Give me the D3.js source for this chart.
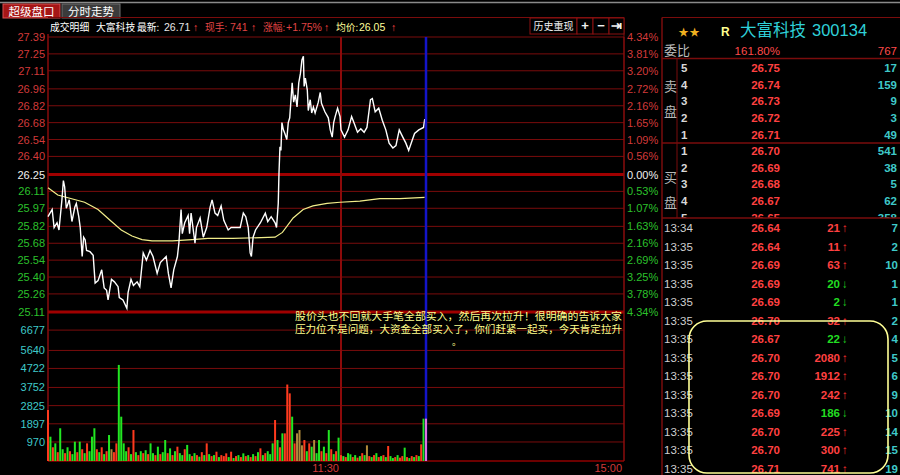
<!DOCTYPE html>
<html lang="zh">
<head>
<meta charset="UTF-8">
<title>大富科技 分时走势</title>
<style>
    html, body { margin: 0; padding: 0; background: #000; }
    svg { display: block; }
    text { font-family: "Liberation Sans", Arial, sans-serif; }
    .cn { font-family: "Noto Sans CJK SC", sans-serif; }
</style>
</head>
<body>
<svg id="chart" width="900" height="475"></svg>
<script src="https://d3js.org/d3.v7.min.js"></script>
<script>
    // ---- data ----
    const prevClose = 26.25;
    const priceTicks = [27.39, 27.25, 27.11, 26.96, 26.82, 26.68, 26.54, 26.40, 26.25,
                        26.11, 25.97, 25.82, 25.68, 25.54, 25.40, 25.26, 25.11];
    const pctLabels = ['4.34%', '3.81%', '3.20%', '2.72%', '2.16%', '1.65%', '1.09%', '0.56%', '0.00%',
                       '0.53%', '1.07%', '1.63%', '2.16%', '2.69%', '3.25%', '3.78%', '4.34%'];
    const volTicks = [970, 1897, 2825, 3752, 4722, 5640, 6677];
    const timeIdx = [120, 240];
    const timeLabels = ['11:30', '15:00'];

    // minute index (0 = 9:30, 120 = 11:30/13:00) and price
    const lineMinutes = [0, 1.7, 2.5, 3.7, 4.5, 5.7, 6.3, 6.8, 7.5, 8.2, 8.7, 9.8, 11, 11.6, 12.6, 13.2, 14, 14.6,
        15.2, 15.8, 17.2, 18.5, 19.3, 20.5, 22, 23, 24, 24.6, 26, 27.2, 28.7, 29.2, 30.7, 32.3, 32.8, 34, 35,
        36.5, 37.6, 39, 40.3, 41.8, 43, 44.7, 46, 48.4, 49.3, 50.4, 51.5, 53, 53.6, 54.5, 55, 56, 57.4, 58,
        58.6, 60.2, 60.8, 62.3, 63.6, 65, 66.4, 67.2, 68.4, 69.5, 70.9, 72, 73.8, 75, 76.6, 78.7, 80, 81, 82,
        82.8, 83.3, 84, 85, 87, 89, 90, 91.4, 93, 93.6, 94.3, 94.6, 95, 95.4, 95.8, 96.4, 97, 97.8, 98.4, 99,
        100, 100.6, 101.3, 102, 102.7, 103.4, 104, 104.6, 104.9, 105.4, 106.2, 106.6, 107.4, 108, 108.7, 109.4,
        110.7, 111.5, 112, 113.4, 114.8, 115.6, 116.4, 117, 117.6, 118.6, 119.6, 120, 121.5, 123, 124.5, 125.5,
        127, 128.4, 129.8, 131, 132.5, 133.3, 134.5, 136, 137.5, 139, 140.4, 142, 143.3, 144.7, 146.2, 147.5,
        148.7, 150.3, 151.2, 153, 155, 155.5];
    const linePrices = [25.90, 25.96, 25.81, 25.85, 25.79, 26.04, 26.20, 26.15, 25.97, 26.01, 26.04, 25.86, 25.98,
        26.01, 25.90, 25.81, 25.57, 25.73, 25.71, 25.62, 25.61, 25.58, 25.35, 25.37, 25.46, 25.31, 25.29, 25.21,
        25.38, 25.36, 25.32, 25.23, 25.21, 25.14, 25.27, 25.38, 25.33, 25.36, 25.32, 25.60, 25.54, 25.62, 25.57,
        25.43, 25.52, 25.57, 25.43, 25.31, 25.46, 25.57, 25.68, 25.96, 25.76, 25.85, 25.91, 25.76, 25.93, 25.68,
        25.81, 25.89, 25.73, 25.81, 25.98, 26.04, 25.93, 25.91, 25.99, 25.87, 25.79, 25.81, 25.81, 25.81, 25.93,
        25.90, 25.81, 25.60, 25.57, 25.73, 25.79, 25.85, 25.93, 25.86, 25.90, 25.85, 25.81, 26.01, 26.26, 26.48,
        26.45, 26.68, 26.62, 26.59, 26.54, 26.68, 26.72, 27.01, 26.85, 26.91, 26.81, 27.01, 27.09, 27.20, 27.23,
        26.98, 27.05, 26.95, 26.78, 26.87, 26.76, 26.81, 26.76, 26.85, 26.93, 26.84, 26.77, 26.72, 26.62, 26.56,
        26.68, 26.73, 26.80, 26.73, 26.62, 26.56, 26.62, 26.73, 26.68, 26.60, 26.63, 26.60, 26.64, 26.87, 26.88,
        26.77, 26.80, 26.70, 26.62, 26.51, 26.47, 26.49, 26.62, 26.56, 26.51, 26.45, 26.54, 26.59, 26.62, 26.64,
        26.71];

    const avgMinutes = [0, 4, 15, 20.5, 26, 30, 34.4, 38.5, 42.6, 51, 59, 65.5, 75.7, 93, 96, 100.4, 104.5,
        108.5, 114.3, 119.6, 128, 136.4, 145, 155.5];
    const avgPrices = [26.14, 26.08, 26.02, 25.96, 25.86, 25.79, 25.74, 25.71, 25.70, 25.70, 25.71, 25.72,
        25.72, 25.73, 25.77, 25.89, 25.96, 25.99, 26.01, 26.02, 26.03, 26.05, 26.05, 26.06];

    // volume per minute, 0..155, and direction (r up, g down, o flat, m current)
    const volumes = [2600, 1240, 700, 900, 450, 1670, 600, 400, 700, 500, 350, 985, 450, 985, 600, 400, 900, 500,
        1240, 1670, 600, 450, 700, 350, 500, 1325, 600, 450, 900, 4900, 2260, 900, 500, 700, 350, 1580, 450, 300,
        500, 400, 550, 350, 900, 400, 300, 730, 350, 450, 1070, 400, 645, 300, 500, 730, 400, 300, 600, 820, 350,
        250, 400, 300, 220, 450, 300, 900, 350, 250, 300, 475, 200, 300, 250, 390, 200, 475, 150, 250, 300, 200,
        390, 250, 300, 200, 350, 250, 450, 645, 300, 400, 500, 350, 900, 2090, 1070, 700, 1410, 1410, 3900, 3450,
        2260, 900, 1410, 1580, 800, 1070, 500, 900, 730, 1070, 400, 1070, 500, 730, 400, 1580, 600, 350, 500, 1190,
        300, 250, 200, 400, 340, 200, 300, 170, 250, 400, 300, 800, 250, 200, 300, 400, 200, 250, 300, 200, 765,
        250, 150, 200, 300, 170, 250, 680, 200, 150, 250, 200, 300, 250, 850, 2160];
    const volDirs = 'rgrgrggrgrgg' + 'rgrgrgggrgrg' + 'rgorrggggrgr' + 'grgrgrggrgrg' + 'grgrgrggrggr' +
                    'grgrgrgrgrgr' + 'rrgrgrgrgrgr' + 'grgrgrgggrgr' + 'grrrgrooorgr' + 'goggrgrgrgrg' +
                    'rgrggrgrgrgo' + 'rgrgrgrgrggr' + 'gr' + 'rgrgrgrgrgrg' + 'rgrgrgrgrgrrrgrr';

    // 盘口
    const askLevels = ['5', '4', '3', '2', '1'];
    const askPrices = ['26.75', '26.74', '26.73', '26.72', '26.71'];
    const askVols = ['17', '159', '9', '3', '49'];
    const bidLevels = ['1', '2', '3', '4', '5'];
    const bidPrices = ['26.70', '26.69', '26.68', '26.67', '26.65'];
    const bidVols = ['541', '38', '5', '62', '358'];

    // 成交明细
    const tickTimes = ['13:34', '13:35', '13:35', '13:35', '13:35', '13:35', '13:35',
                       '13:35', '13:35', '13:35', '13:35', '13:35', '13:35', '13:35'];
    const tickPrices = ['26.64', '26.64', '26.69', '26.69', '26.69', '26.70', '26.67',
                        '26.70', '26.70', '26.70', '26.69', '26.70', '26.70', '26.71'];
    const tickVols = ['21', '11', '63', '20', '2', '32', '22', '2080', '1912', '242', '186', '225', '300', '741'];
    const tickUp = [1, 1, 1, 0, 0, 1, 0, 1, 1, 1, 0, 1, 1, 1];
    const tickCounts = ['7', '2', '10', '1', '1', '2', '4', '5', '6', '9', '10', '14', '15', '19'];

    // ---- layout ----
    const plotL = 48, plotR = 624, plotT = 37, priceBottom = 312, volBottom = 461;
    const gridColor = '#7a0c0c';
    const redTxt = '#d23a3a', greenTxt = '#2cc02c', cyanTxt = '#3fc9c9';

    const svg = d3.select('#chart');

    const x = d3.scaleLinear().domain([0, 120, 240]).range([plotL, 341, plotR]);
    const yP = d3.scaleLinear().domain([25.11, 27.39]).range([priceBottom, plotT]);
    const yV = d3.scaleLinear().domain([0, 7600]).range([volBottom, priceBottom]);

    // top strip and tabs
    svg.append('line').attr('x1', 0).attr('x2', 900).attr('y1', 2.5).attr('y2', 2.5)
        .attr('stroke', '#8a8a8a').attr('stroke-width', 1.5);
    const tabs = [{t: '超级盘口', x: 3, w: 57, fill: '#a51616', stroke: '#d85050'},
                  {t: '分时走势', x: 62, w: 58, fill: '#3b3b3b', stroke: '#707070'}];
    tabs.forEach(d => {
        svg.append('rect').attr('x', d.x).attr('y', 4).attr('width', d.w).attr('height', 14)
            .attr('fill', d.fill).attr('stroke', d.stroke).attr('stroke-width', 1);
        svg.append('text').attr('class', 'cn').attr('x', d.x + d.w / 2).attr('y', 15.5)
            .attr('text-anchor', 'middle').attr('font-size', 11.5).attr('fill', '#fff').text(d.t);
    });

    // header frame
    svg.append('line').attr('x1', plotL).attr('x2', plotR).attr('y1', 17.5).attr('y2', 17.5)
        .attr('stroke', gridColor);
    svg.append('line').attr('x1', plotR).attr('x2', plotR).attr('y1', 17.5).attr('y2', plotT)
        .attr('stroke', gridColor);

    // header text
    const head = [
        {t: '成交明细', x: 50, c: '#ffffff', cn: 1},
        {t: '大富科技', x: 96, c: '#ffffff', cn: 1},
        {t: '最新:', x: 137, c: '#ffffff', cn: 1},
        {t: '26.71', x: 164, c: '#e8e8e8'},
        {t: '↑', x: 193, c: '#ff4040', b: 1},
        {t: '现手:', x: 205, c: '#e04444', cn: 1},
        {t: '741', x: 230, c: '#e04444'},
        {t: '↑', x: 251, c: '#ff4040', b: 1},
        {t: '涨幅:', x: 263, c: '#e04444', cn: 1},
        {t: '+1.75%', x: 286, c: '#e04444'},
        {t: '↑', x: 324, c: '#ff4040', b: 1},
        {t: '均价:', x: 336, c: '#ffff9a', cn: 1},
        {t: '26.05', x: 359, c: '#ffff9a'},
        {t: '↑', x: 391, c: '#ff4040', b: 1}
    ];
    head.forEach(d => {
        svg.append('text').attr('class', d.cn ? 'cn' : null).attr('x', d.x).attr('y', 31)
            .attr('font-size', d.cn ? 9.8 : 10.5).attr('font-weight', d.b ? 'bold' : null)
            .attr('fill', d.c).text(d.t);
    });

    // buttons
    const buttons = [{t: '历史重现', x: 530, w: 47}, {t: '+', x: 577, w: 16}, {t: '−', x: 593, w: 16},
                     {t: '⇥', x: 609, w: 15}];
    buttons.forEach(d => {
        svg.append('rect').attr('x', d.x).attr('y', 18).attr('width', d.w).attr('height', 16)
            .attr('fill', '#000').attr('stroke', '#8a1010');
        svg.append('text').attr('class', d.t.length > 1 ? 'cn' : null)
            .attr('x', d.x + d.w / 2).attr('y', 30).attr('text-anchor', 'middle')
            .attr('font-size', d.t.length > 1 ? 10 : 13).attr('font-weight', d.t.length > 1 ? null : 'bold')
            .attr('fill', '#f0f0f0').text(d.t);
    });

    // price grid
    svg.append('g').selectAll('line').data(priceTicks).enter().append('line')
        .attr('x1', plotL).attr('x2', plotR)
        .attr('y1', d => yP(d)).attr('y2', d => yP(d))
        .attr('stroke', d => (d === prevClose || d === 25.11) ? '#a00000' : gridColor)
        .attr('stroke-width', d => (d === prevClose || d === 25.11) ? 3 : 1);

    // volume grid
    svg.append('g').selectAll('line').data(volTicks).enter().append('line')
        .attr('x1', plotL).attr('x2', plotR)
        .attr('y1', d => yV(d)).attr('y2', d => yV(d))
        .attr('stroke', gridColor).attr('stroke-width', 1);
    svg.append('line').attr('x1', plotL).attr('x2', plotR).attr('y1', volBottom).attr('y2', volBottom)
        .attr('stroke', '#900000').attr('stroke-width', 1.5);

    // frame verticals
    svg.append('line').attr('x1', plotL).attr('x2', plotL).attr('y1', plotT - 3).attr('y2', volBottom)
        .attr('stroke', '#8a0c0c').attr('stroke-width', 1.5);
    svg.append('line').attr('x1', plotR).attr('x2', plotR).attr('y1', plotT).attr('y2', volBottom)
        .attr('stroke', '#8a0c0c').attr('stroke-width', 1.5);
    svg.append('line').attr('x1', x(120)).attr('x2', x(120)).attr('y1', plotT).attr('y2', volBottom)
        .attr('stroke', '#8c0a0a').attr('stroke-width', 2);

    // left price labels
    svg.append('g').selectAll('text').data(priceTicks).enter().append('text')
        .attr('x', 45).attr('y', d => yP(d) + 4).attr('text-anchor', 'end').attr('font-size', 11)
        .attr('fill', d => d > prevClose ? redTxt : (d < prevClose ? greenTxt : '#f0f0f0'))
        .text(d => d.toFixed(2));

    // right percent labels
    svg.append('g').selectAll('text').data(pctLabels).enter().append('text')
        .attr('x', 627).attr('y', (d, i) => yP(priceTicks[i]) + 4).attr('font-size', 11)
        .attr('fill', (d, i) => i < 8 ? redTxt : (i > 8 ? greenTxt : '#f0f0f0'))
        .text(d => d);

    // volume labels
    svg.append('g').selectAll('text').data(volTicks).enter().append('text')
        .attr('x', 45).attr('y', d => yV(d) + 4).attr('text-anchor', 'end').attr('font-size', 11)
        .attr('fill', cyanTxt).text(d => d);

    // time labels
    svg.append('g').selectAll('text').data(timeLabels).enter().append('text')
        .attr('x', (d, i) => x(timeIdx[i]) - 2).attr('y', 472).attr('text-anchor', 'end')
        .attr('font-size', 11).attr('fill', redTxt).text(d => d);

    // volume bars
    const volColor = {r: '#ff3a1e', g: '#22e622', o: '#b08a3c', m: '#e070e0'};
    svg.append('g').selectAll('rect').data(volumes).enter().append('rect')
        .attr('x', (d, i) => x(i) - 1).attr('width', 2)
        .attr('y', d => yV(d)).attr('height', d => volBottom - yV(d))
        .attr('fill', (d, i) => volColor[volDirs[i]] || '#ff3a1e');

    // average price line
    const avgData = avgMinutes.map((m, i) => [m, avgPrices[i]]);
    svg.append('path').datum(avgData)
        .attr('d', d3.line().x(d => x(d[0])).y(d => yP(d[1])))
        .attr('fill', 'none').attr('stroke', '#f2ee8a').attr('stroke-width', 1.2);

    // price line
    const priceData = lineMinutes.map((m, i) => [m, linePrices[i]]);
    svg.append('path').datum(priceData)
        .attr('d', d3.line().x(d => x(d[0])).y(d => yP(d[1])))
        .attr('fill', 'none').attr('stroke', '#ffffff').attr('stroke-width', 1.4);

    // replay cursor
    svg.append('line').attr('x1', 426).attr('x2', 426).attr('y1', plotT).attr('y2', volBottom)
        .attr('stroke', '#1414c8').attr('stroke-width', 2.5);
    svg.append('rect').attr('x', 425).attr('y', yV(volumes[155])).attr('width', 2)
        .attr('height', volBottom - yV(volumes[155])).attr('fill', volColor.m);

    // annotation
    const note = ['股价头也不回就大手笔全部买入，然后再次拉升！很明确的告诉大家',
                  '压力位不是问题，大资金全部买入了，你们赶紧一起买，今天肯定拉升'];
    note.forEach((t, i) => {
        svg.append('text').attr('class', 'cn').attr('x', 295).attr('y', 320 + i * 12.5)
            .attr('font-size', 10.5).attr('textLength', 327).attr('lengthAdjust', 'spacingAndGlyphs')
            .attr('fill', '#ffff8c').text(t);
    });
    svg.append('text').attr('class', 'cn').attr('x', 452).attr('y', 345).attr('font-size', 9)
        .attr('fill', '#ffff8c').text('。');

    // ---- right panel ----
    const px = 662;
    svg.append('line').attr('x1', px).attr('x2', px).attr('y1', 17.5).attr('y2', 475)
        .attr('stroke', gridColor).attr('stroke-width', 1.5);
    svg.append('line').attr('x1', px).attr('x2', 900).attr('y1', 17.5).attr('y2', 17.5)
        .attr('stroke', gridColor);
    svg.append('text').attr('x', 678).attr('y', 36).attr('font-size', 11).attr('fill', '#f0b020')
        .text('★★');
    svg.append('text').attr('x', 721).attr('y', 36).attr('font-size', 12).attr('font-weight', 'bold')
        .attr('fill', '#ffff90').text('R');
    svg.append('text').attr('class', 'cn').attr('x', 740).attr('y', 36).attr('font-size', 16.5)
        .attr('fill', '#2fd0d8').text('大富科技');
    svg.append('text').attr('x', 812).attr('y', 36).attr('font-size', 16.5)
        .attr('fill', '#2fd0d8').text('300134');

    svg.append('text').attr('class', 'cn').attr('x', 664).attr('y', 55).attr('font-size', 13)
        .attr('fill', '#bdbdbd').text('委比');
    svg.append('text').attr('x', 780).attr('y', 55).attr('text-anchor', 'end').attr('font-size', 11.5)
        .attr('fill', '#ff4a4a').text('161.80%');
    svg.append('text').attr('x', 897).attr('y', 55).attr('text-anchor', 'end').attr('font-size', 11.5)
        .attr('fill', '#ff4a4a').text('767');

    [58.5, 143].forEach(yy => svg.append('line').attr('x1', px).attr('x2', 900)
        .attr('y1', yy).attr('y2', yy).attr('stroke', gridColor).attr('stroke-width', 1.5));
    svg.append('line').attr('x1', 677).attr('x2', 677).attr('y1', 58.5).attr('y2', 218)
        .attr('stroke', gridColor);

    // book rows are clipped at the top of the tick list
    svg.append('clipPath').attr('id', 'bookClip').append('rect')
        .attr('x', px).attr('y', 40).attr('width', 900 - px).attr('height', 178);
    const bookG = svg.append('g').attr('clip-path', 'url(#bookClip)');

    function book(levels, prices, vols, y0) {
        levels.forEach((l, i) => {
            const yy = y0 + i * 16.7;
            bookG.append('text').attr('x', 681).attr('y', yy).attr('font-size', 11.5).attr('font-weight', 'bold')
                .attr('fill', '#d8d8d8').text(l);
            bookG.append('text').attr('x', 780).attr('y', yy).attr('text-anchor', 'end').attr('font-size', 11.5)
                .attr('font-weight', 'bold').attr('fill', '#ff4040').text(prices[i]);
            bookG.append('text').attr('x', 897).attr('y', yy).attr('text-anchor', 'end').attr('font-size', 11.5)
                .attr('font-weight', 'bold').attr('fill', cyanTxt).text(vols[i]);
        });
    }
    book(askLevels, askPrices, askVols, 72);
    book(bidLevels, bidPrices, bidVols, 155);

    [['卖', 91], ['盘', 116], ['买', 182], ['盘', 207]].forEach(d => {
        svg.append('text').attr('class', 'cn').attr('x', 664).attr('y', d[1]).attr('font-size', 13)
            .attr('fill', '#b8b8b8').text(d[0]);
    });

    svg.append('line').attr('x1', px).attr('x2', 900).attr('y1', 218).attr('y2', 218)
        .attr('stroke', gridColor).attr('stroke-width', 1.5);

    tickTimes.forEach((t, i) => {
        const yy = 232 + i * 18.5;
        svg.append('text').attr('x', 664).attr('y', yy).attr('font-size', 11.5).attr('fill', '#d0d0d0').text(t);
        svg.append('text').attr('x', 780).attr('y', yy).attr('text-anchor', 'end').attr('font-size', 11.5)
            .attr('font-weight', 'bold').attr('fill', '#ff4040').text(tickPrices[i]);
        svg.append('text').attr('x', 840).attr('y', yy).attr('text-anchor', 'end').attr('font-size', 11.5)
            .attr('font-weight', 'bold').attr('fill', tickUp[i] ? '#ff4040' : '#22dd22').text(tickVols[i]);
        svg.append('text').attr('x', 842).attr('y', yy).attr('font-size', 11.5).attr('font-weight', 'bold')
            .attr('fill', tickUp[i] ? '#ff3030' : '#22dd22').text(tickUp[i] ? '↑' : '↓');
        svg.append('text').attr('x', 898).attr('y', yy).attr('text-anchor', 'end').attr('font-size', 11.5)
            .attr('font-weight', 'bold').attr('fill', cyanTxt).text(tickCounts[i]);
    });

    svg.append('rect').attr('x', 689).attr('y', 321).attr('width', 199).attr('height', 152)
        .attr('rx', 18).attr('ry', 18).attr('fill', 'none')
        .attr('stroke', '#ffff96').attr('stroke-width', 1.6);
</script>
</body>
</html>
